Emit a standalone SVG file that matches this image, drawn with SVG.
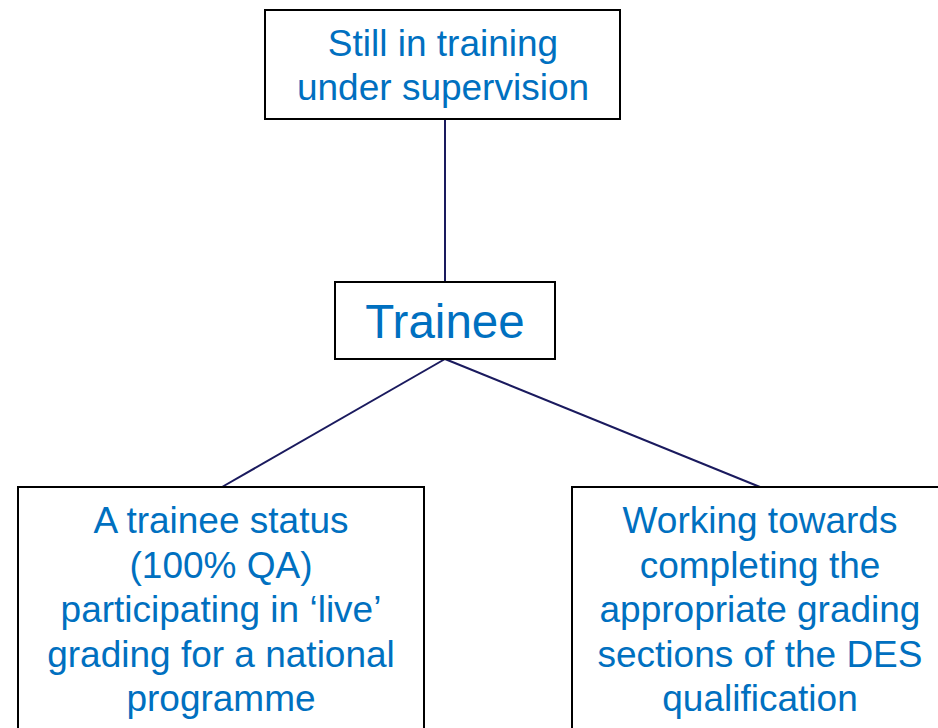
<svg xmlns="http://www.w3.org/2000/svg" width="938" height="728" viewBox="0 0 938 728">
<style>
.box{fill:#ffffff;stroke:#000000;stroke-width:2}
.t{font-family:"Liberation Sans",Arial,sans-serif;fill:#0070C0;text-anchor:middle;font-size:37px}
.big{font-size:47.5px}
.conn{stroke:#1a1a5e;stroke-width:2;fill:none}
</style>
<rect width="938" height="728" fill="#ffffff"/>
<g id="connectors">
<line class="conn" x1="445" y1="119" x2="445" y2="282"/>
<line class="conn" x1="445" y1="359" x2="222" y2="487"/>
<line class="conn" x1="445" y1="359" x2="760" y2="487"/>
</g>
<g id="node-supervision">
<rect class="box" x="265" y="10" width="355" height="109"/>
<text class="t" x="443" y="56">Still in training</text>
<text class="t" x="443" y="100">under supervision</text>
</g>
<g id="node-trainee">
<rect class="box" x="335" y="282" width="220" height="77"/>
<text class="t big" x="445" y="338">Trainee</text>
</g>
<g id="node-status">
<rect class="box" x="18" y="487" width="406" height="260"/>
<text class="t" x="221" y="533">A trainee status</text>
<text class="t" x="221" y="578">(100% QA)</text>
<text class="t" x="221" y="622">participating in ‘live’</text>
<text class="t" x="221" y="667">grading for a national</text>
<text class="t" x="221" y="711">programme</text>
</g>
<g id="node-working">
<rect class="box" x="572" y="487" width="376" height="260"/>
<text class="t" x="760" y="533">Working towards</text>
<text class="t" x="760" y="578">completing the</text>
<text class="t" x="760" y="622">appropriate grading</text>
<text class="t" x="760" y="667">sections of the DES</text>
<text class="t" x="760" y="711">qualification</text>
</g>
</svg>
